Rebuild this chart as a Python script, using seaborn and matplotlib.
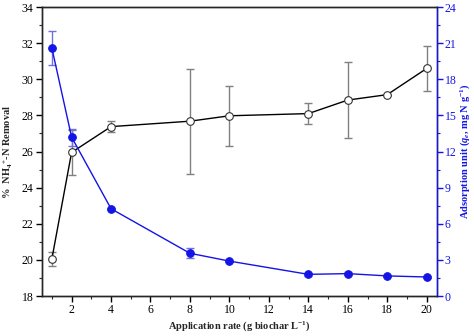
import matplotlib
matplotlib.use("Agg")
import matplotlib.pyplot as plt
import seaborn as sns
import pandas as pd
import numpy as np
from matplotlib.ticker import MultipleLocator

sns.set_theme(style="ticks")
plt.rcParams['font.family'] = ['Liberation Serif', 'DejaVu Serif']
plt.rcParams['mathtext.fontset'] = 'custom'
plt.rcParams['mathtext.rm'] = 'Liberation Serif:bold'
plt.rcParams['mathtext.it'] = 'Liberation Serif:italic:bold'
plt.rcParams['mathtext.bf'] = 'Liberation Serif:bold'

rate = [1, 2, 4, 8, 10, 14, 16, 18, 20]
removal = [20.05, 25.95, 27.38, 27.68, 27.98, 28.1, 28.85, 29.15, 30.6]
removal_err = [0.4, 1.25, 0.3, 2.9, 1.65, 0.6, 2.1, 0.0, 1.25]
qe = [20.6, 13.2, 7.25, 3.55, 2.9, 1.8, 1.86, 1.67, 1.58]
qe_err = [1.4, 0.7, 0.1, 0.4, 0.1, 0.1, 0.1, 0.1, 0.1]

df = pd.DataFrame({"rate": rate, "removal": removal, "removal_err": removal_err,
                   "qe": qe, "qe_err": qe_err})

blue = "#1414e6"
fig = plt.figure(figsize=(4.74, 3.36), dpi=100)
ax = fig.add_axes([0.0886, 0.119, 0.921 - 0.0886, 0.979 - 0.119])
ax2 = ax.twinx()

ax.errorbar(df["rate"], df["removal"], yerr=df["removal_err"], fmt="none",
            ecolor="#808080", elinewidth=1.0, capsize=3, capthick=1.0, zorder=2)
sns.lineplot(data=df, x="rate", y="removal", ax=ax, color="black", lw=1.0,
             marker="o", markersize=5.5, markerfacecolor="white",
             markeredgecolor="#333333", markeredgewidth=0.8, zorder=3)

ax2.errorbar(df["rate"], df["qe"], yerr=df["qe_err"], fmt="none",
             ecolor="#7070e0", elinewidth=1.0, capsize=3, capthick=1.0, zorder=2)
sns.lineplot(data=df, x="rate", y="qe", ax=ax2, color=blue, lw=1.0,
             marker="o", markersize=5.5, markerfacecolor=blue,
             markeredgecolor=blue, zorder=3)

ax.set_xlim(0.5, 20.5)
ax.set_ylim(18, 34)
ax2.set_ylim(0, 24)
ax.xaxis.set_major_locator(MultipleLocator(2))
ax.xaxis.set_minor_locator(MultipleLocator(1))
ax.yaxis.set_major_locator(MultipleLocator(2))
ax.yaxis.set_minor_locator(MultipleLocator(1))
ax2.yaxis.set_major_locator(MultipleLocator(3))
ax2.yaxis.set_minor_locator(MultipleLocator(1.5))

for a in (ax, ax2):
    for s in a.spines.values():
        s.set_linewidth(1.0)
ax2.spines['right'].set_color(blue)
ax.tick_params(axis='both', which='major', direction='out', length=4, width=1,
               labelsize=8.5, colors='black', pad=2)
ax.tick_params(axis='both', which='minor', direction='out', length=2.5, width=0.8)
ax2.tick_params(axis='y', which='major', direction='out', length=4, width=1,
                labelsize=8.5, colors=blue, pad=2)
ax2.tick_params(axis='y', which='minor', direction='out', length=2.5, width=0.8,
                colors=blue)

ax.set_xlabel("Application rate (g biochar L$^{-1}$)", fontsize=7.5,
              fontweight='bold', labelpad=2)
ax.set_ylabel("%  NH$_4$$^{+}$-N Removal", fontsize=7.5, fontweight='bold',
              labelpad=5)
ax2.set_ylabel("Adsorption unit ($q_e$, mg N g$^{-1}$)", fontsize=7.5,
               fontweight='bold', color=blue, labelpad=1)

fig.savefig("out.png", dpi=100)
